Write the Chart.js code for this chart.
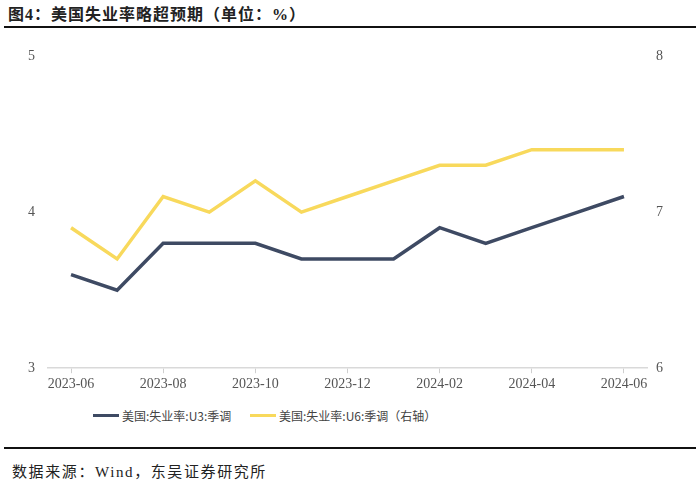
<!DOCTYPE html>
<html lang="zh">
<head>
    <meta charset="UTF-8">
    <title>美国失业率略超预期</title>
    <script src="https://cdn.jsdelivr.net/npm/chart.js"></script>
    <style>
        body {
            margin: 0;
            background: #fff;
            font-family: 'Liberation Serif', 'Noto Sans CJK SC', serif;
        }
        .wrap {
            position: relative;
            width: 700px;
            height: 488px;
        }
        .title {
            position: absolute;
            left: 8px;
            top: 1px;
            font-size: 16px;
            letter-spacing: 1px;
            font-weight: bold;
            color: #222;
        }
        .rule {
            position: absolute;
            left: 4px;
            right: 4px;
            height: 2px;
            background: #111;
        }
        .chart-box {
            position: absolute;
            left: 0;
            top: 30px;
            width: 700px;
            height: 366px;
        }
        .legend-item {
            position: absolute;
            top: 407px;
            display: flex;
            align-items: center;
            font-family: 'Noto Sans CJK SC', serif;
            font-size: 12px;
            color: #444;
        }
        .legend-item span.mark {
            display: inline-block;
            width: 26px;
            height: 3.5px;
            margin-right: 3px;
        }
        .source {
            position: absolute;
            left: 12px;
            top: 460px;
            font-size: 15px;
            letter-spacing: 1.6px;
            color: #222;
        }
    </style>
</head>
<body>
<div class="wrap">
    <div class="title">图4：美国失业率略超预期（单位：%）</div>
    <div class="rule" style="top:26px"></div>
    <div class="chart-box"><canvas id="chart"></canvas></div>
    <div id="legend"></div>
    <div class="rule" style="top:447px"></div>
    <div class="source">数据来源：Wind，东吴证券研究所</div>
</div>

<script>
    const months = ['2023-06', '2023-07', '2023-08', '2023-09', '2023-10', '2023-11', '2023-12',
                    '2024-01', '2024-02', '2024-03', '2024-04', '2024-05', '2024-06'];
    const u3 = [3.6, 3.5, 3.8, 3.8, 3.8, 3.7, 3.7, 3.7, 3.9, 3.8, 3.9, 4.0, 4.1];
    const u6 = [6.9, 6.7, 7.1, 7.0, 7.2, 7.0, 7.1, 7.2, 7.3, 7.3, 7.4, 7.4, 7.4];

    const navy = '#3e4a63';
    const yellow = '#f8d95c';
    const tickFont = { family: "'Liberation Serif', serif", size: 14 };

    const chart = new Chart(document.getElementById('chart'), {
        type: 'line',
        data: {
            labels: months,
            datasets: [
                {
                    label: '美国:失业率:U3:季调',
                    data: u3,
                    borderColor: navy,
                    backgroundColor: navy,
                    borderWidth: 3.5,
                    pointRadius: 0,
                    tension: 0,
                    yAxisID: 'y'
                },
                {
                    label: '美国:失业率:U6:季调（右轴）',
                    data: u6,
                    borderColor: yellow,
                    backgroundColor: yellow,
                    borderWidth: 3.5,
                    pointRadius: 0,
                    tension: 0,
                    yAxisID: 'y1'
                }
            ]
        },
        options: {
            responsive: true,
            maintainAspectRatio: false,
            animation: false,
            layout: { padding: { left: 23, right: 36, top: 26, bottom: 0 } },
            plugins: {
                legend: { display: false },
                tooltip: { enabled: false }
            },
            scales: {
                x: {
                    offset: true,
                    grid: {
                        offset: false,
                        drawOnChartArea: false,
                        tickLength: 5,
                        color: (ctx) => ctx.index % 2 === 0 ? '#cfcfcf' : 'rgba(0,0,0,0)'
                    },
                    border: { color: '#d9d9d9', width: 1.5 },
                    ticks: {
                        autoSkip: false,
                        maxRotation: 0,
                        color: '#555',
                        font: tickFont,
                        callback: function(val, i) { return i % 2 === 0 ? months[i] : ''; }
                    }
                },
                y: {
                    position: 'left',
                    min: 3,
                    max: 5,
                    ticks: { stepSize: 1, color: '#555', font: tickFont, padding: 5 },
                    grid: { display: false },
                    border: { display: false }
                },
                y1: {
                    position: 'right',
                    min: 6,
                    max: 8,
                    ticks: { stepSize: 1, color: '#555', font: tickFont, padding: 1 },
                    grid: { display: false },
                    border: { display: false }
                }
            }
        }
    });

    // legend drawn as html, built from the chart's datasets
    const legendLeft = [93, 250];
    const legendBox = document.getElementById('legend');
    chart.data.datasets.forEach(function(ds, i) {
        const item = document.createElement('div');
        item.className = 'legend-item';
        item.style.left = legendLeft[i] + 'px';
        const mark = document.createElement('span');
        mark.className = 'mark';
        mark.style.background = ds.borderColor;
        item.appendChild(mark);
        item.appendChild(document.createTextNode(ds.label));
        legendBox.appendChild(item);
    });
</script>
</body>
</html>
